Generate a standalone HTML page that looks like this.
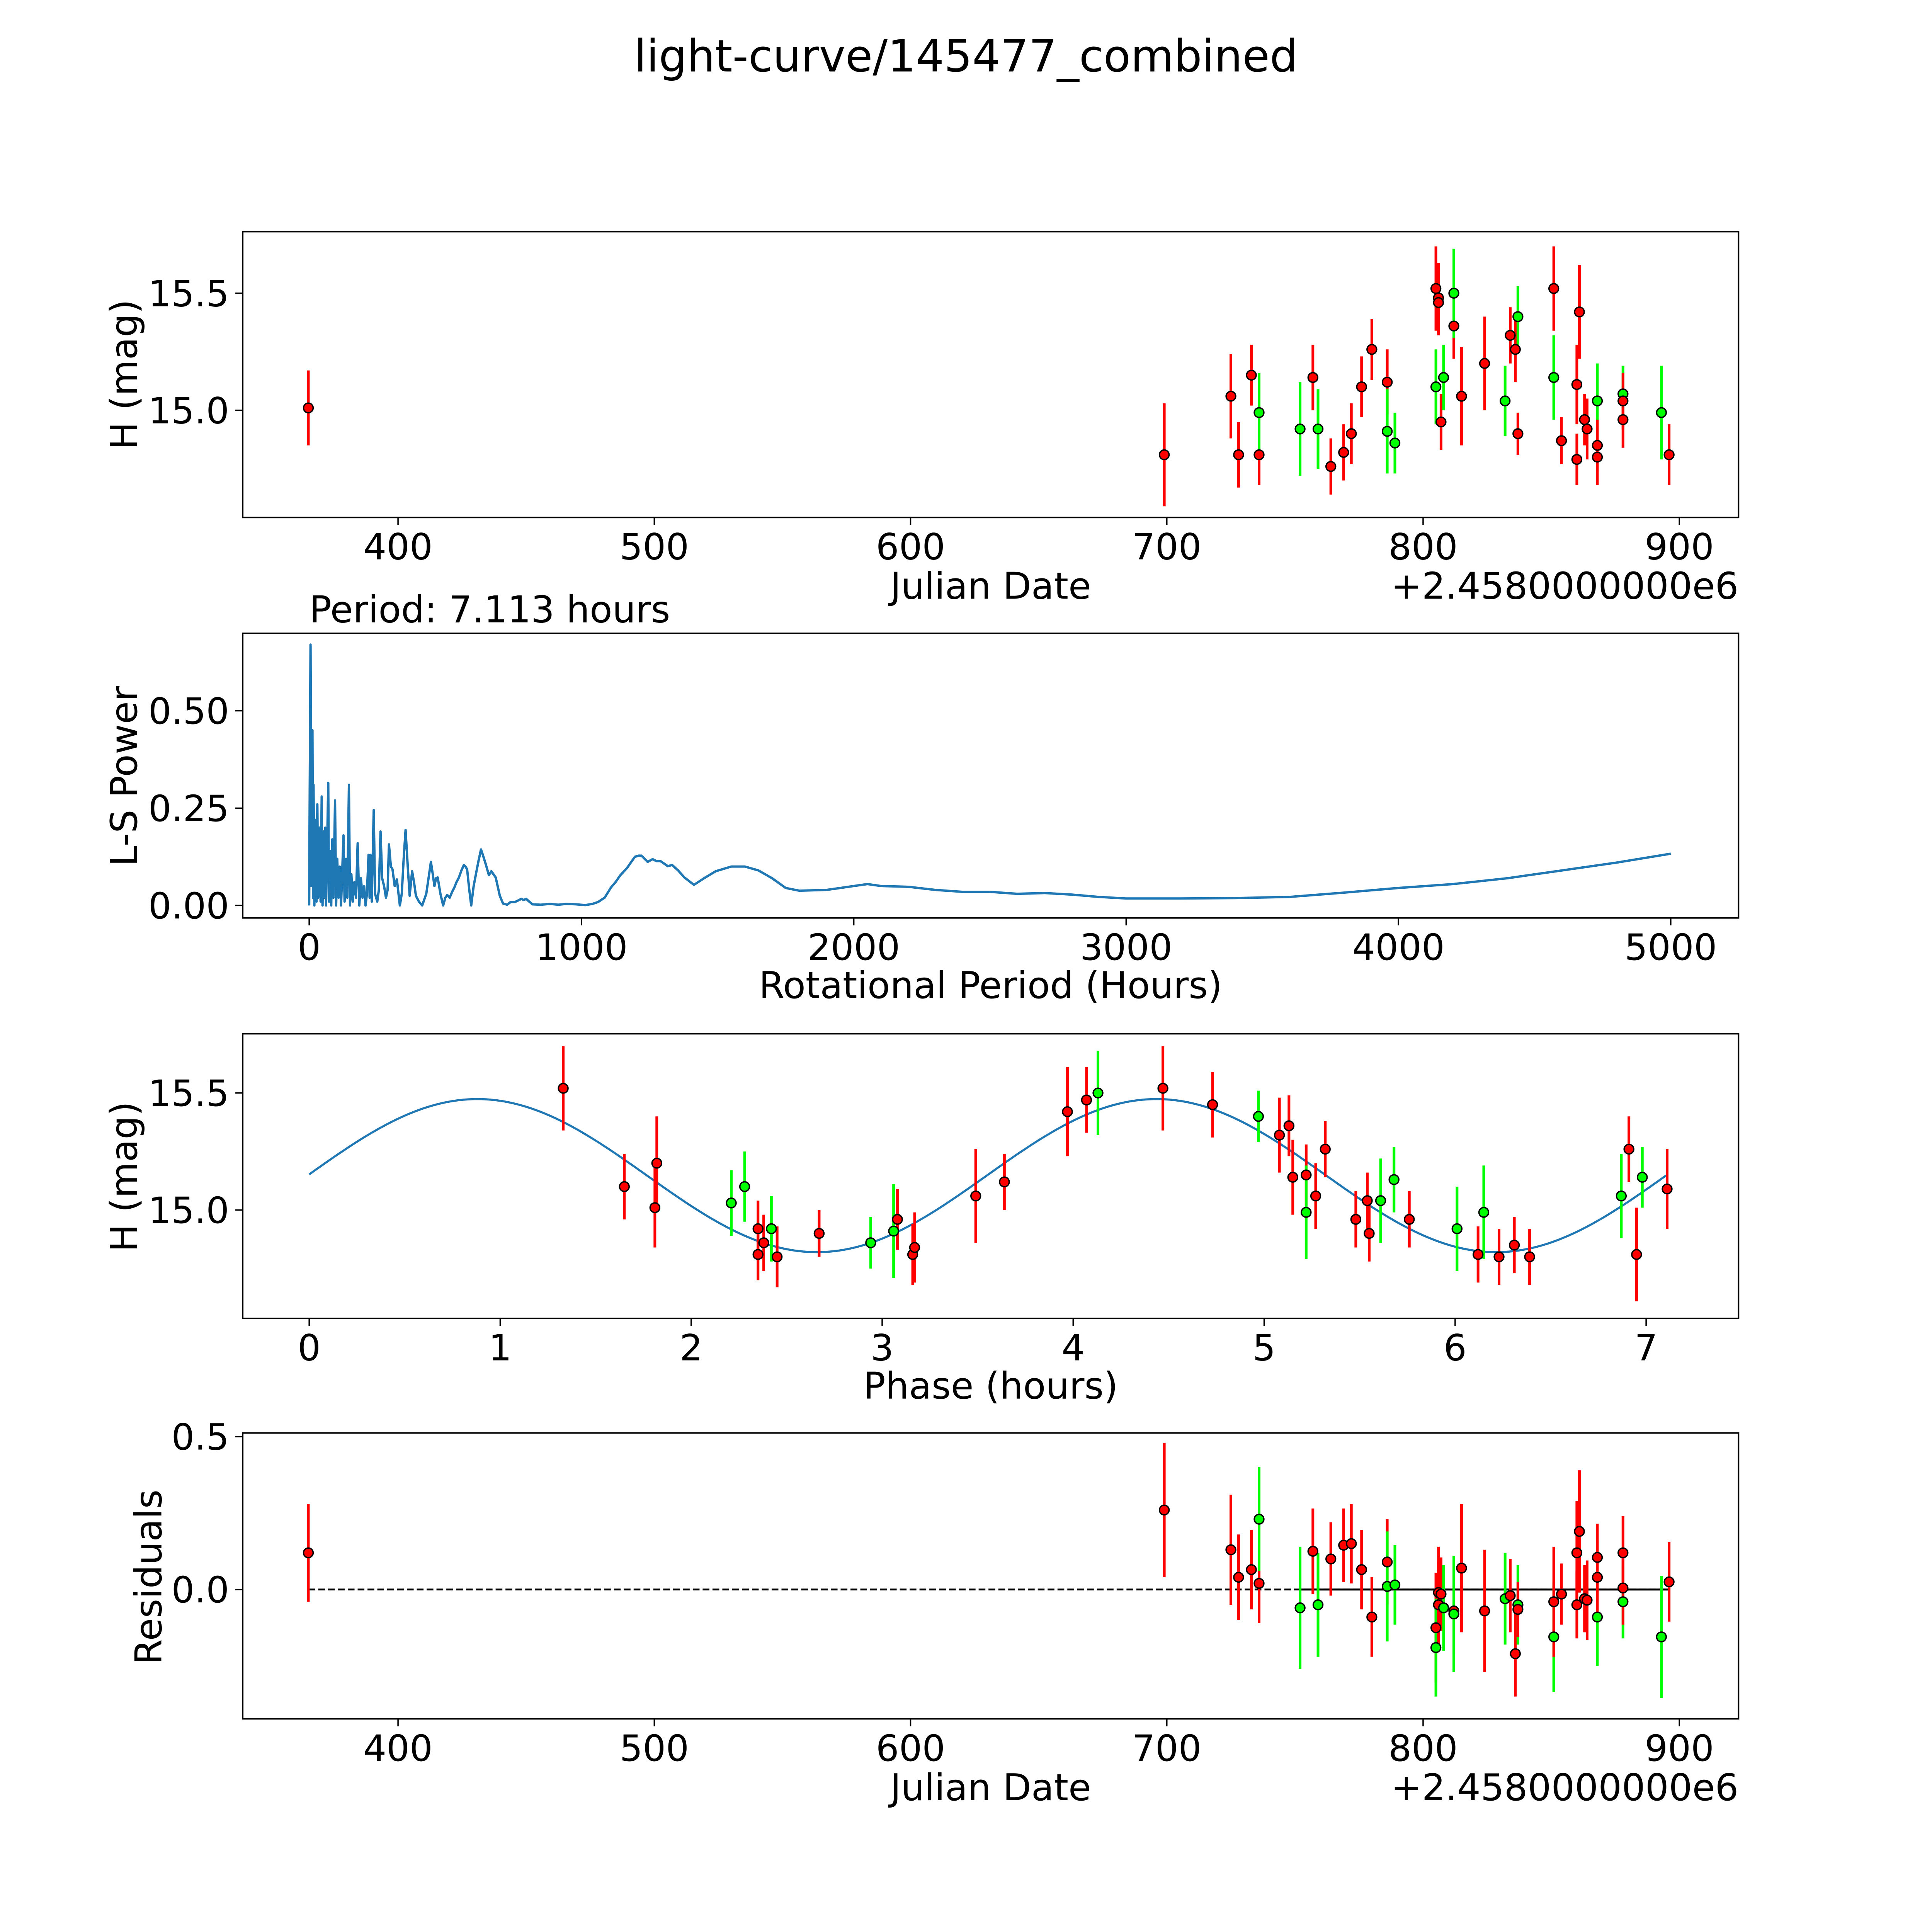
<!DOCTYPE html>
<html><head><meta charset="utf-8"><meta name="viewport" content="width=device-width,initial-scale=1"><style>
html,body{margin:0;padding:0;background:#fff;overflow:hidden;width:100vw;height:100vh}
svg{display:block;width:100vw;height:100vh}
text{font-family:"DejaVu Sans","Liberation Sans",sans-serif;fill:#000}
</style></head><body>
<svg id="fig" viewBox="0 0 1568 1568" preserveAspectRatio="none" xmlns="http://www.w3.org/2000/svg">
<rect width="1568" height="1568" fill="#fff"/>
<text x="784" y="58" font-size="36" text-anchor="middle">light-curve/145477_combined</text>
</svg>
<script>
// ---- Light curve data (JD offset from 2458000) ----
const jd = [365,699,725,728,733,736,736,752,757,759,764,769,772,776,780,786,786,789,805,805,806,806,807,808,812,812,815,824,832,834,836,837,837,851,851,854,860,860,861,863,864,868,868,868,878,878,878,893,896];
const mag = [15.01,14.81,15.06,14.81,15.15,14.81,14.99,14.92,15.14,14.92,14.76,14.82,14.90,15.10,15.26,15.12,14.91,14.86,15.52,15.10,15.48,15.46,14.95,15.14,15.36,15.50,15.06,15.20,15.04,15.32,15.26,15.40,14.90,15.14,15.52,14.87,15.11,14.79,15.42,14.96,14.92,15.04,14.85,14.80,15.07,15.04,14.96,14.99,14.81];
const magErr = [0.16,0.22,0.18,0.14,0.13,0.13,0.17,0.2,0.14,0.17,0.12,0.12,0.13,0.13,0.13,0.14,0.18,0.13,0.18,0.16,0.15,0.14,0.12,0.14,0.14,0.19,0.21,0.2,0.15,0.12,0.14,0.13,0.09,0.18,0.18,0.1,0.17,0.11,0.2,0.11,0.13,0.16,0.11,0.12,0.12,0.12,0.12,0.2,0.13];
const source = ['r','r','r','r','r','r','g','g','r','g','r','r','r','r','r','r','g','g','r','g','r','r','r','g','r','g','r','r','g','r','r','g','r','g','r','r','r','r','r','r','r','g','r','r','g','r','r','g','r'];
const residual = [0.12,0.26,0.13,0.04,0.065,0.02,0.23,-0.06,0.125,-0.05,0.1,0.145,0.15,0.065,-0.09,0.09,0.01,0.015,-0.125,-0.19,-0.01,-0.05,-0.015,-0.06,-0.07,-0.08,0.07,-0.07,-0.03,-0.02,-0.21,-0.05,-0.065,-0.155,-0.04,-0.015,0.12,-0.05,0.19,-0.03,-0.035,-0.09,0.105,0.04,-0.04,0.12,0.005,-0.155,0.025];
// ---- Phase-folded data ----
const phase = [1.33,1.65,1.81,1.82,2.21,2.28,2.35,2.35,2.38,2.42,2.45,2.67,2.94,3.06,3.08,3.16,3.17,3.49,3.64,3.97,4.07,4.13,4.47,4.73,4.97,5.08,5.13,5.15,5.22,5.22,5.27,5.32,5.48,5.54,5.55,5.61,5.68,5.76,6.01,6.12,6.15,6.23,6.31,6.39,6.87,6.91,6.95,6.98,7.11];
const phaseMag = [15.52,15.10,15.01,15.20,15.03,15.10,14.92,14.81,14.86,14.92,14.80,14.90,14.86,14.91,14.96,14.81,14.84,15.06,15.12,15.42,15.47,15.50,15.52,15.45,15.40,15.32,15.36,15.14,15.15,14.99,15.06,15.26,14.96,15.04,14.90,15.04,15.13,14.96,14.92,14.81,14.99,14.80,14.85,14.80,15.06,15.26,14.81,15.14,15.09];
const phaseErr = [0.18,0.14,0.17,0.2,0.14,0.15,0.12,0.11,0.12,0.14,0.13,0.1,0.11,0.2,0.13,0.13,0.15,0.2,0.12,0.19,0.14,0.18,0.18,0.14,0.11,0.16,0.13,0.16,0.13,0.2,0.14,0.12,0.12,0.12,0.12,0.18,0.14,0.12,0.18,0.12,0.2,0.12,0.12,0.12,0.18,0.14,0.2,0.13,0.17];
const phaseSource = ['r','r','r','r','g','g','r','r','r','g','r','r','g','g','r','r','r','r','r','r','r','g','r','r','g','r','r','r','r','g','r','r','r','r','r','g','g','r','g','r','g','r','r','r','g','r','r','g','r'];
// fit model params: mean, amplitude, peak phase, half period
const fitParams = [15.147, 0.327, 0.88, 3.5565];
const rotPeriod = 7.113;
// ---- Periodogram ----
const lsPeriod = [0,2,5,8,12,14,16,19,23,27,30,33,38,42,46,49,53,56,59,62,66,70,73,77,81,85,89,95,99,103,108,112,117,121,126,130,135,140,146,150,155,160,166,172,178,184,190,196,202,207,212,218,222,225,230,237,242,250,256,262,268,275,282,288,293,300,306,314,322,333,340,347,354,362,369,378,385,392,403,415,430,447,454,460,466,472,482,492,500,507,516,525,533,541,550,559,568,574,580,588,595,604,613,622,631,640,648,655,660,669,677,685,700,712,727,740,756,768,779,788,797,808,820,850,885,915,944,980,1014,1040,1061,1085,1108,1125,1143,1167,1196,1210,1220,1243,1261,1275,1290,1317,1333,1355,1378,1413,1450,1493,1550,1600,1650,1700,1750,1800,1900,2000,2050,2100,2200,2300,2400,2500,2600,2700,2800,2900,3000,3200,3400,3600,3800,4000,4200,4400,4600,4800,5000];
const lsPower = [0,0.3,0.67,0.05,0.45,0.02,0.31,0,0.22,0.01,0.26,0.02,0.2,0.01,0.28,0,0.19,0.02,0.2,0,0.15,0.315,0.01,0.14,0,0.17,0.02,0.27,0,0.12,0.02,0.1,0,0.08,0.18,0.01,0.12,0.02,0.31,0,0.08,0.01,0.06,0.02,0.16,0,0.07,0.02,0.05,0,0.03,0.13,0.02,0.13,0.01,0.245,0.03,0.01,0.04,0.19,0.07,0.05,0.02,0.04,0.157,0.1,0.093,0.05,0.067,0,0.03,0.12,0.194,0.1,0.025,0.088,0.06,0.025,0.01,0,0.03,0.112,0.08,0.05,0.07,0.072,0.03,0,0.02,0.027,0.02,0.035,0.046,0.06,0.072,0.09,0.104,0.1,0.093,0.04,0,0.05,0.083,0.115,0.144,0.125,0.107,0.09,0.078,0.088,0.08,0.072,0.025,0.005,0.002,0.009,0.009,0.013,0.017,0.014,0.017,0.01,0.003,0.002,0.004,0.002,0.004,0.003,0.001,0.004,0.009,0.02,0.046,0.06,0.078,0.096,0.125,0.128,0.128,0.112,0.119,0.114,0.114,0.101,0.104,0.09,0.072,0.053,0.07,0.088,0.1,0.1,0.09,0.07,0.045,0.038,0.04,0.05,0.055,0.05,0.048,0.04,0.035,0.035,0.03,0.032,0.028,0.022,0.018,0.018,0.019,0.022,0.033,0.045,0.055,0.07,0.09,0.11,0.133];
// tick labels
const jdTicks = [400,500,600,700,800,900];
const magTicks = [15.0,15.5];
const lsXTicks = [0,1000,2000,3000,4000,5000];
const lsYTicks = [0.0,0.25,0.5];
const phaseTicks = [0,1,2,3,4,5,6,7];
const resTicks = [0.0,0.5];

const NS = 'http://www.w3.org/2000/svg';
const svg = document.getElementById('fig');
function mk(tag, attrs, parent){
  const e = document.createElementNS(NS, tag);
  for (const k in attrs) e.setAttribute(k, attrs[k]);
  (parent||svg).appendChild(e);
  return e;
}
function axes(name, box, xlim, ylim){
  const g = mk('g', {});
  
  
  const sx = v => box.x0 + (v - xlim[0]) / (xlim[1] - xlim[0]) * (box.x1 - box.x0);
  const sy = v => box.y1 - (v - ylim[0]) / (ylim[1] - ylim[0]) * (box.y1 - box.y0);
  return {g, sx, sy, box};
}
function frame(ax){
  const b = ax.box;
  const r = mk('rect', {x:b.x0, y:b.y0, width:b.x1-b.x0, height:b.y1-b.y0, fill:'none', stroke:'#000', 'stroke-width':1.2}, ax.g);
  
  
}
function xticks(ax, ticks, fmt, name){
  const g = mk('g', {}, ax.g);
  
  
  ticks.forEach(t => {
    const x = ax.sx(t);
    mk('line', {x1:x, x2:x, y1:ax.box.y1, y2:ax.box.y1+6, stroke:'#000', 'stroke-width':1.1}, g);
    const tx = mk('text', {x:x, y:ax.box.y1+34, 'font-size':29.5, 'text-anchor':'middle'}, g);
    tx.textContent = fmt(t);
  });
}
function yticks(ax, ticks, fmt, name){
  const g = mk('g', {}, ax.g);
  
  
  ticks.forEach(t => {
    const y = ax.sy(t);
    mk('line', {x1:ax.box.x0-6, x2:ax.box.x0, y1:y, y2:y, stroke:'#000', 'stroke-width':1.1}, g);
    const tx = mk('text', {x:ax.box.x0-11, y:y+10.5, 'font-size':29.5, 'text-anchor':'end'}, g);
    tx.textContent = fmt(t);
  });
}
function label(text, x, y, name, rot, anchor){
  const t = mk('text', {x:x, y:y, 'font-size':30, 'text-anchor':anchor||'middle'});
  if (rot) t.setAttribute('transform', `rotate(-90 ${x} ${y})`);
  
  
  t.textContent = text;
}
function errPoints(ax, xs, ys, es, src, name){
  const g = mk('g', {}, ax.g);
  
  
  const col = c => c === 'g' ? '#00ff00' : '#ff0000';
  xs.forEach((xv,i) => {
    const x = ax.sx(xv);
    const l = mk('line', {x1:x, x2:x, y1:ax.sy(ys[i]-es[i]), y2:ax.sy(ys[i]+es[i]), stroke:col(src[i]), 'stroke-width':2.2}, g);
    
    
  });
  xs.forEach((xv,i) => {
    const c = mk('circle', {cx:ax.sx(xv), cy:ax.sy(ys[i]), r:3.9, fill:col(src[i]), stroke:'#000', 'stroke-width':1.1}, g);
    
    
  });
}

// Panel 1
const a1 = axes('light-curve-panel', {x0:197,x1:1411,y0:188,y1:420}, [339.4,923.1], [14.542,15.763]);
errPoints(a1, jd, mag, magErr, source, 'light-curve-points');
frame(a1);
xticks(a1, jdTicks, v => String(v), 'x-axis-ticks');
yticks(a1, magTicks, v => v.toFixed(1), 'y-axis-ticks');
label('Julian Date', 804, 486, 'x-axis-title');
label('+2.4580000000e6', 1411, 486, 'x-axis-offset', false, 'end');
label('H (mag)', 111, 304, 'y-axis-title', true);

// Panel 2
label('Period: 7.113 hours', 251, 505, 'period-annotation', false, 'start');
const a2 = axes('periodogram-panel', {x0:197,x1:1411,y0:514,y1:745}, [-244,5249], [-0.032,0.699]);
let d = '';
lsPeriod.forEach((p,i) => { d += (i?'L':'M') + a2.sx(p).toFixed(2) + ',' + a2.sy(lsPower[i]).toFixed(2); });
const ls = mk('path', {d:d, fill:'none', stroke:'#1f77b4', 'stroke-width':1.9, 'stroke-linejoin':'round'}, a2.g);


frame(a2);
xticks(a2, lsXTicks, v => String(v), 'x-axis-ticks');
yticks(a2, lsYTicks, v => v.toFixed(2), 'y-axis-ticks');
label('Rotational Period (Hours)', 804, 810, 'x-axis-title');
label('L-S Power', 111, 630, 'y-axis-title', true);

// Panel 3
const a3 = axes('phase-panel', {x0:197,x1:1411,y0:839,y1:1070}, [-0.348,7.484], [14.537,15.753]);
let dm = '';
for (let k = 0; k <= 300; k++){
  const p = rotPeriod * k / 300;
  const m = fitParams[0] + fitParams[1] * Math.cos(2*Math.PI*(p - fitParams[2]) / fitParams[3]);
  dm += (k?'L':'M') + a3.sx(p).toFixed(2) + ',' + a3.sy(m).toFixed(2);
}
const fit = mk('path', {d:dm, fill:'none', stroke:'#1f77b4', 'stroke-width':1.7}, a3.g);


errPoints(a3, phase, phaseMag, phaseErr, phaseSource, 'phase-points');
frame(a3);
xticks(a3, phaseTicks, v => String(v), 'x-axis-ticks');
yticks(a3, magTicks, v => v.toFixed(1), 'y-axis-ticks');
label('Phase (hours)', 804, 1135, 'x-axis-title');
label('H (mag)', 111, 955, 'y-axis-title', true);

// Panel 4
const a4 = axes('residuals-panel', {x0:197,x1:1411,y0:1163,y1:1395}, [339.4,923.1], [-0.423,0.512]);
const z1 = mk('line', {x1:a4.sx(jd[0]), x2:a4.sx(jd[jd.length-1]), y1:a4.sy(0), y2:a4.sy(0), stroke:'#000', 'stroke-width':1.5, 'stroke-dasharray':'5.5,2.5'}, a4.g);


const z2 = mk('line', {x1:a4.sx(752), x2:a4.sx(jd[jd.length-1]), y1:a4.sy(0), y2:a4.sy(0), stroke:'#000', 'stroke-width':1.6}, a4.g);


errPoints(a4, jd, residual, magErr, source, 'residual-points');
frame(a4);
xticks(a4, jdTicks, v => String(v), 'x-axis-ticks');
yticks(a4, resTicks, v => v.toFixed(1), 'y-axis-ticks');
label('Julian Date', 804, 1461, 'x-axis-title');
label('+2.4580000000e6', 1411, 1461, 'x-axis-offset', false, 'end');
label('Residuals', 131, 1280, 'y-axis-title', true);
</script>
</body></html>
